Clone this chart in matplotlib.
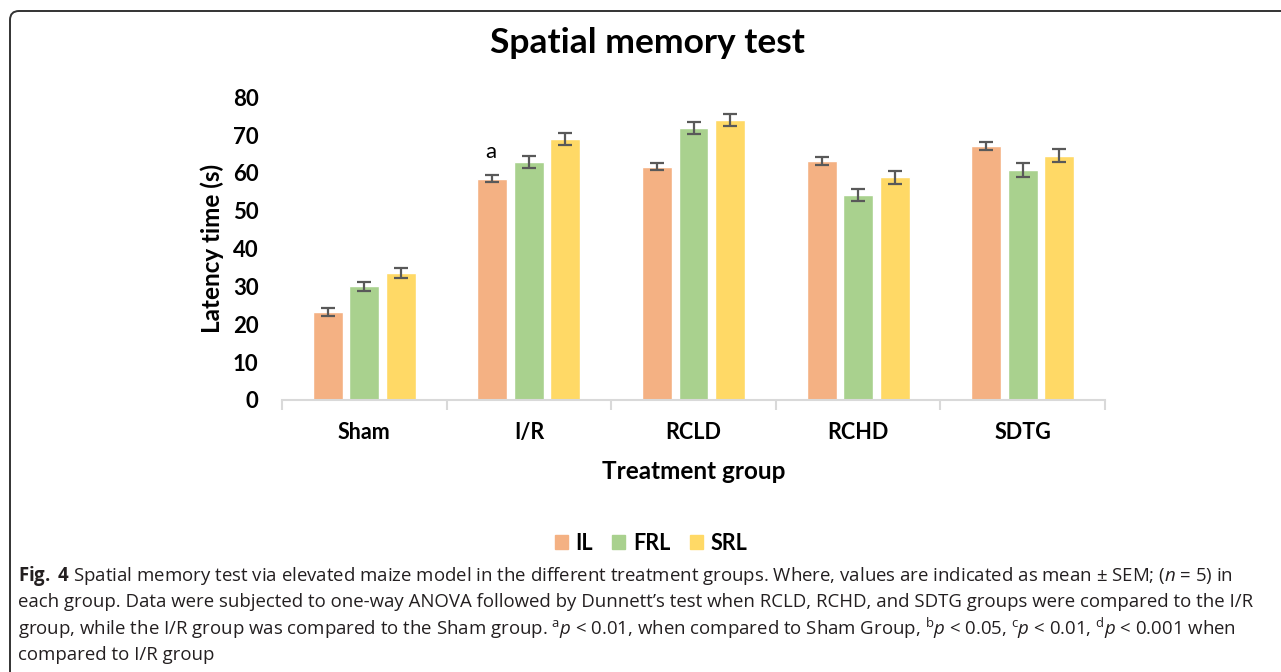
import numpy as np
import matplotlib
matplotlib.use("Agg")
import matplotlib.pyplot as plt
from matplotlib.patches import Patch, FancyBboxPatch

# data
groups = ["Sham", "I/R", "RCLD", "RCHD", "SDTG"]
series = ["IL", "FRL", "SRL"]
il_mean = [23.2, 58.5, 61.7, 63.1, 67.1]
frl_mean = [30.0, 62.9, 71.9, 54.2, 60.8]
srl_mean = [33.6, 69.0, 74.0, 58.9, 64.6]
il_sem = [1.0, 1.0, 1.0, 1.0, 1.0]
frl_sem = [1.3, 1.6, 1.5, 1.6, 1.9]
srl_sem = [1.4, 1.6, 1.7, 1.75, 1.7]
y_ticks = [0, 10, 20, 30, 40, 50, 60, 70, 80]

colors = ["#F4B183", "#A9D18E", "#FFD966"]
chart_font = "Lato"
cap_font = "Open Sans"

plt.rcParams["mathtext.fontset"] = "custom"
plt.rcParams["mathtext.rm"] = cap_font
plt.rcParams["mathtext.it"] = cap_font + ":italic"
plt.rcParams["mathtext.bf"] = cap_font + ":bold"

W, H = 1281, 672
fig = plt.figure(figsize=(W / 100, H / 100), dpi=100)

# rounded frame (only left and top edges visible)
frame = FancyBboxPatch((0.10, -1.0), 20.0, 7.61, boxstyle="round,pad=0,rounding_size=0.09",
                       transform=fig.dpi_scale_trans, fill=False, ec="#333333", lw=1.4)
fig.patches.append(frame)

x0, x1 = 282, 1105
y_bot, y_top = 400, 97.3
ax = fig.add_axes([x0 / W, 1 - y_bot / H, (x1 - x0) / W, (y_bot - y_top) / H])

means = [il_mean, frl_mean, srl_mean]
sems = [il_sem, frl_sem, srl_sem]
x = np.arange(len(groups))
step = 0.222
width = 0.182
for i in range(3):
    ax.bar(x + (i - 1) * step, means[i], width, color=colors[i], edgecolor="white",
           linewidth=1.0, label=series[i], zorder=2)
    ax.errorbar(x + (i - 1) * step, means[i], yerr=sems[i], fmt="none", ecolor="#595959",
                elinewidth=1.6, capsize=5, capthick=1.6, zorder=3)

ax.text(1 - step - 0.01, 65.5, "a", ha="center", va="center", fontsize=16, family=chart_font)

ax.set_xlim(-0.5, len(groups) - 0.5)
ax.set_ylim(0, 80)
ax.set_yticks(y_ticks)
ax.set_yticklabels([str(v) for v in y_ticks], fontsize=16, fontweight="bold", family=chart_font)
ax.tick_params(axis="y", length=0, pad=17)

ax.set_xticks(np.arange(len(groups) + 1) - 0.5)
ax.set_xticklabels([])
ax.tick_params(axis="x", which="major", length=7, color="#D9D9D9", width=1.5)
ax.set_xticks(x, minor=True)
ax.set_xticklabels(groups, minor=True, fontsize=15.5, fontweight="bold", family=chart_font)
ax.tick_params(axis="x", which="minor", length=0, pad=16)

for s in ["top", "right", "left"]:
    ax.spines[s].set_visible(False)
ax.spines["bottom"].set_color("#D9D9D9")
ax.spines["bottom"].set_linewidth(1.5)

ax.set_ylabel("Latency time (s)", fontsize=17.5, fontweight="bold", family=chart_font, labelpad=6)
ax.set_xlabel("Treatment group", fontsize=17.5, fontweight="bold", family=chart_font, labelpad=12)

fig.text(647 / W, 1 - 43 / H, "Spatial memory test", ha="center", va="center",
         fontsize=25.5, fontweight="bold", family=chart_font)

handles = [Patch(color=c) for c in colors]
fig.legend(handles, series, loc="center", bbox_to_anchor=(651 / W, 1 - 543 / H), ncol=3,
           frameon=False, handlelength=0.6, handleheight=0.6, handletextpad=0.35,
           columnspacing=0.9, prop={"family": chart_font, "weight": "bold", "size": 15.5})

caption = [
    r"$\bf{Fig.}$ $\bf{4}$ Spatial memory test via elevated maize model in the different treatment groups. "
    r"Where, values are indicated as mean ± SEM; ($\it{n}$ = 5) in",
    "each group. Data were subjected to one-way ANOVA followed by Dunnett\u2019s test when RCLD, RCHD, "
    "and SDTG groups were compared to the I/R",
    r"group, while the I/R group was compared to the Sham group. $^{\mathrm{a}}\it{p}$ < 0.01, when compared to "
    r"Sham Group, $^{\mathrm{b}}\it{p}$ < 0.05, $^{\mathrm{c}}\it{p}$ < 0.01, $^{\mathrm{d}}\it{p}$ < 0.001 when",
    "compared to I/R group",
]
cap_y = [576, 602, 628, 655]
for line, yy in zip(caption, cap_y):
    fig.text(18 / W, 1 - yy / H, line, ha="left", va="center", fontsize=13.4, family=cap_font,
             color="#231F20")

fig.savefig("out.png", dpi=100)
